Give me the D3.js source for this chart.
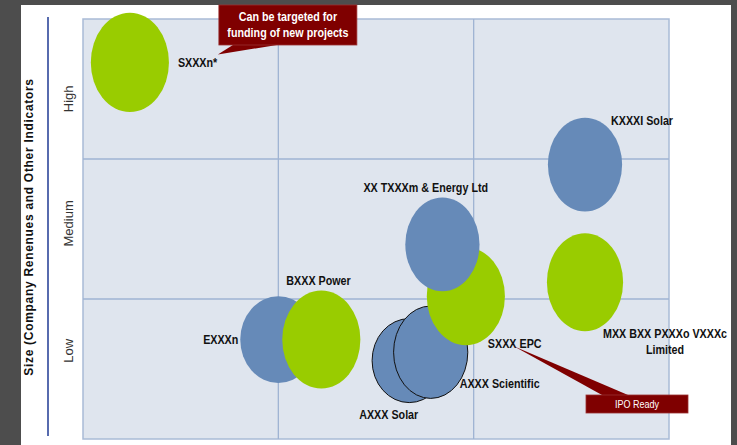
<!doctype html>
<html lang=en>
<head>
  <meta charset=utf-8>
  <title>Bubble matrix</title>
  <style>
    html, body {
      margin: 0;
      background: #4d4d4d;
    }
    svg {
      display: block;
    }
    .lbl {
      font-family: "Liberation Sans", Arial, sans-serif;
      font-weight: bold;
      font-size: 12.5px;
      fill: #111;
    }
    .lvl {
      font-family: "Liberation Sans", Arial, sans-serif;
      font-size: 13px;
      fill: #333;
    }
  </style>
  <script src="https://cdn.jsdelivr.net/npm/d3@7"></script>
</head>
<body>
<script>
  const names = ['SXXXn*', 'KXXXI Solar', 'EXXXn', 'BXXX Power', 'AXXX Solar', 'AXXX Scientific', 'SXXX EPC', 'XX TXXXm & Energy Ltd', 'MXX BXX PXXXo VXXXc|Limited']
  const xValues = [0.24, 2.57, 1.00, 1.22, 1.67, 1.78, 1.96, 1.84, 2.57]
  const yValues = [2.69, 1.96, 0.71, 0.71, 0.56, 0.62, 1.02, 1.39, 1.12]
  const widths = [0.20, 0.19, 0.195, 0.20, 0.19, 0.19, 0.20, 0.19, 0.195]
  const heights = [0.355, 0.335, 0.31, 0.35, 0.30, 0.33, 0.35, 0.335, 0.35]
  const groups = ['green', 'blue', 'blue', 'green', 'blue', 'blue', 'green', 'blue', 'green']
  const outlined = [false, false, false, false, true, true, false, false, false]
  const yLevels = ['Low', 'Medium', 'High']
  const yLevelPos = [0.63, 1.54, 2.43]
  const yTitle = 'Size (Company Renenues and Other Indicators'
  const callouts = [
    { text: ['Can be targeted for', 'funding of new projects'], at: 'SXXXn*' },
    { text: ['IPO Ready'], at: 'SXXX EPC' },
  ]

  const width = 737
  const height = 445
  const plot = { left: 83, right: 669, top: 19, bottom: 439 }
  const narrow = 0.86

  const color = d3.scaleOrdinal().domain(['green', 'blue']).range(['#99cc00', '#668ab8'])
  const x = d3.scaleLinear().domain([0, 3]).range([plot.left, plot.right])
  const y = d3.scaleLinear().domain([0, 3]).range([plot.bottom, plot.top])

  const bubbles = names.map((name, i) => ({
    name,
    x: xValues[i],
    y: yValues[i],
    w: widths[i],
    h: heights[i],
    group: groups[i],
    outlined: outlined[i],
  }))

  const svg = d3.select('body').append('svg')
    .attr('width', width)
    .attr('height', height)

  // white page
  svg.append('rect')
    .attr('x', 21).attr('y', 5)
    .attr('width', 710).attr('height', height - 5)
    .attr('fill', '#fff')

  const g = svg.append('g')

  g.append('rect')
    .attr('x', plot.left).attr('y', plot.top)
    .attr('width', plot.right - plot.left).attr('height', plot.bottom - plot.top)
    .attr('fill', '#dfe5ee')
    .attr('stroke', '#a9bbd6')
    .attr('stroke-width', 1.5)

  g.append('g')
    .selectAll('line')
    .data([1, 2])
    .join('line')
      .attr('x1', d => x(d)).attr('x2', d => x(d))
      .attr('y1', plot.top).attr('y2', plot.bottom)
      .attr('stroke', '#9fb3d3')
      .attr('stroke-width', 1.3)
  g.append('g')
    .selectAll('line')
    .data([1, 2])
    .join('line')
      .attr('y1', d => y(d)).attr('y2', d => y(d))
      .attr('x1', plot.left).attr('x2', plot.right)
      .attr('stroke', '#9fb3d3')
      .attr('stroke-width', 1.3)

  // y axis
  svg.append('line')
    .attr('x1', 48).attr('x2', 48)
    .attr('y1', 17).attr('y2', 436)
    .attr('stroke', '#1f3a93')
    .attr('stroke-width', 1.5)

  svg.append('g')
    .selectAll('text')
    .data(yLevels)
    .join('text')
      .attr('class', 'lvl')
      .attr('transform', (d, i) => `translate(73,${y(yLevelPos[i])}) rotate(-90)`)
      .attr('text-anchor', 'middle')
      .text(d => d)

  svg.append('text')
    .attr('transform', 'translate(33,227) rotate(-90)')
    .attr('text-anchor', 'middle')
    .style('font-family', '"Liberation Sans", Arial, sans-serif')
    .style('font-weight', 'bold')
    .style('font-size', '12px')
    .style('letter-spacing', '0.7px')
    .attr('fill', '#111')
    .text(yTitle)

  // bubbles
  g.append('g')
    .selectAll('ellipse')
    .data(bubbles)
    .join('ellipse')
      .attr('cx', d => x(d.x))
      .attr('cy', d => y(d.y))
      .attr('rx', d => x(d.w) - x(0))
      .attr('ry', d => y(0) - y(d.h))
      .attr('fill', d => color(d.group))
      .attr('stroke', d => d.outlined ? '#111' : 'none')
      .attr('stroke-width', 1)

  // labels, placed next to each bubble
  const labelPos = {
    'SXXXn*': [48, 0, 'start'],
    'KXXXI Solar': [26, -44, 'start'],
    'EXXXn': [-40, 0, 'end'],
    'BXXX Power': [-35, -59, 'start'],
    'AXXX Solar': [-50, 54, 'start'],
    'AXXX Scientific': [29, 31, 'start'],
    'SXXX EPC': [22, 47, 'start'],
    'XX TXXXm & Energy Ltd': [-79, -57, 'start'],
    'MXX BXX PXXXo VXXXc|Limited': [80, 51, 'middle'],
  }

  g.append('g')
    .selectAll('text')
    .data(bubbles)
    .join('text')
      .attr('class', 'lbl')
      .attr('text-anchor', d => labelPos[d.name][2])
      .attr('transform', d => `translate(${x(d.x) + labelPos[d.name][0]},${y(d.y) + labelPos[d.name][1]}) scale(${narrow},1)`)
      .each(function (d) {
        d3.select(this).selectAll('tspan')
          .data(d.name.split('|'))
          .join('tspan')
            .attr('x', 0)
            .attr('dy', (l, i) => i ? '1.3em' : '0.35em')
            .text(l => l)
      })

  // callouts
  const byName = Object.fromEntries(bubbles.map(d => [d.name, d]))

  const note1 = callouts[0]
  const tb = byName[note1.at]
  const tipX = x(tb.x) + 88, tipY = y(tb.y) - 8
  const box1 = { x: tipX + 1, y: 5, w: 138, h: 40 }
  g.append('path')
    .attr('d', `M${box1.x + 14},${box1.y + box1.h} L${tipX},${tipY} L${box1.x + 58},${box1.y + box1.h} Z`)
    .attr('fill', '#7f0000')
  g.append('rect')
    .attr('x', box1.x).attr('y', box1.y)
    .attr('width', box1.w).attr('height', box1.h)
    .attr('fill', '#7f0000')
    .attr('stroke', '#9a3030')
    .attr('stroke-width', 0.8)
  g.append('text')
    .attr('class', 'lbl')
    .style('fill', '#fff')
    .attr('text-anchor', 'middle')
    .attr('transform', `translate(${box1.x + box1.w / 2},${box1.y}) scale(${narrow},1)`)
    .selectAll('tspan')
    .data(note1.text)
    .join('tspan')
      .attr('x', 0)
      .attr('y', (d, i) => 16 + i * 16)
      .text(d => d)

  const note2 = callouts[1]
  const ib = byName[note2.at]
  const tip2X = x(ib.x) + 48, tip2Y = y(ib.y) + 50
  const box2 = { x: 586, y: 395, w: 102, h: 18 }
  g.append('path')
    .attr('d', `M${tip2X},${tip2Y} L${box2.x + 16},${box2.y} L${box2.x + 42},${box2.y} Z`)
    .attr('fill', '#7f0000')
  g.append('rect')
    .attr('x', box2.x).attr('y', box2.y)
    .attr('width', box2.w).attr('height', box2.h)
    .attr('fill', '#7f0000')
    .attr('stroke', '#9a3030')
    .attr('stroke-width', 0.8)
  g.append('text')
    .attr('transform', `translate(${box2.x + box2.w / 2},${box2.y + box2.h / 2}) scale(${narrow},1)`)
    .attr('dy', '0.35em')
    .attr('text-anchor', 'middle')
    .style('font-family', '"Liberation Sans", Arial, sans-serif')
    .style('font-size', '10.5px')
    .attr('fill', '#fff')
    .text(note2.text[0])

  // dark right edge
  svg.append('rect')
    .attr('x', 731).attr('y', 0)
    .attr('width', 6).attr('height', height)
    .attr('fill', '#4d4d4d')
</script>
</body>
</html>
